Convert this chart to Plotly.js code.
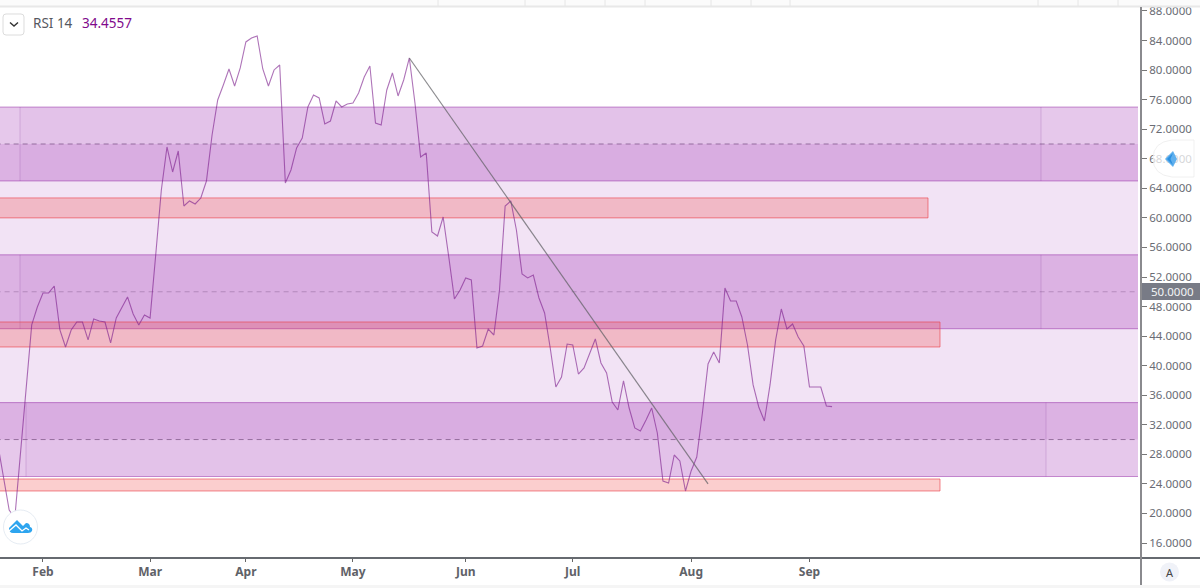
<!DOCTYPE html>
<html><head><meta charset="utf-8">
<style>html,body{margin:0;padding:0;background:#fff;overflow:hidden}#c{width:1200px;height:588px}</style>
<script src="https://cdn.plot.ly/plotly-3.0.1.min.js"></script></head>
<body><div id="c"></div>
<script>
// RSI 14, one value per daily bar
const rsi = [29.27,24.80,20.47,19.39,27.91,36.71,45.51,47.94,49.84,49.84,
50.78,44.83,42.53,44.83,45.91,45.91,43.48,46.32,46.05,45.91,
43.07,46.45,47.94,49.30,46.99,45.51,46.86,46.45,54.98,63.78,
69.60,66.21,69.05,61.61,62.29,61.88,62.69,64.99,71.22,75.96,
77.99,80.15,77.85,80.29,83.81,84.35,84.62,80.15,77.85,80.02,
80.69,64.72,66.48,69.46,70.81,75.01,76.63,76.23,72.71,73.11,
75.82,75.01,75.42,75.55,76.90,79.07,80.56,72.84,72.57,77.31,
79.61,76.50,78.66,81.64,75.55,68.24,68.78,58.09,57.55,60.12,
54.71,49.02,50.24,51.87,51.60,42.39,42.66,44.96,44.15,50.24,
61.61,62.29,58.36,52.41,51.87,52.27,49.16,47.13,42.39,37.11,
38.47,42.93,42.80,38.87,39.69,41.58,43.61,40.36,39.01,35.08,
34.00,37.93,34.27,31.57,31.16,32.65,34.27,30.89,24.39,24.12,
27.91,27.10,23.04,25.75,27.64,33.60,40.23,41.85,40.36,50.51,
48.75,48.75,46.59,42.80,37.39,34.41,32.51,37.39,43.48,47.67,
44.96,45.64,43.88,42.66,37.11,37.11,37.11,34.54,34.46];
const monthLabels = ['Feb','Mar','Apr','May','Jun','Jul','Aug','Sep'];
const monthBars = [8,27,44,63,83,102,123,144];
const yTicks = [16,20,24,28,32,36,40,44,48,52,56,60,64,68,72,76,80,84,88];
const trendBars = [73,126];
const trendValues = [81.64,24.0];
const purpleBands = [[65,75],[45,55],[25,35]];
const redBands = [[60,62.7],[42.53,45.91],[23.04,24.66]];
const dashedLevels = [70,50,30];

// pixel helpers for page furniture outside the data
const W=1141,H=551,T=7;
const px=x=>x/W, py=y=>(T+H-y)/H;
const bar=x=>(x+2.1)/5.636;
const pathP=s=>s.replace(/(-?[\d.]+),(-?[\d.]+)/g,(m,a,b)=>px(+a).toFixed(5)+','+py(+b).toFixed(5));
const pshape=(d,o)=>Object.assign({type:'path',xref:'paper',yref:'paper',path:pathP(d),layer:'above',line:{width:0}},o);

const shapes=[];
const rect=(x0,x1,y0,y1,fill,line,lw,layer)=>shapes.push({type:'rect',xref:'x',yref:'y',x0,x1,y0,y1,fillcolor:fill,layer:layer||'below',line:{color:line||'rgba(0,0,0,0)',width:lw||0}});
const hline=(x0,x1,v,color,w,dash)=>shapes.push({type:'line',xref:'x',yref:'y',x0,x1,y0:v,y1:v,layer:'below',line:{color,width:w,dash}});
const vline=(x,y0,y1,color)=>shapes.push({type:'line',xref:'x',yref:'y',x0:x,x1:x,y0,y1,layer:'below',line:{color,width:1}});

// pale base zone
rect(-2,bar(1138),30,70,'rgba(156,39,176,0.13)');
// purple bands with left / right sections
const splitL=[bar(20),bar(20),bar(26)], splitR=[bar(1041),bar(1041),bar(1046)];
purpleBands.forEach((b,i)=>{
  rect(-2,splitL[i],b[0],b[1],'rgba(147,20,170,0.235)');
  rect(splitL[i],splitR[i],b[0],b[1],'rgba(147,20,170,0.26)');
  rect(splitR[i],bar(1138),b[0],b[1],'rgba(147,20,170,0.235)');
  hline(-2,bar(1138),b[1],'rgba(147,40,165,0.5)',1);
  hline(-2,bar(1138),b[0],'rgba(147,40,165,0.5)',1);
  vline(splitL[i],b[0],b[1],'rgba(120,40,140,0.2)');
  vline(splitR[i],b[0],b[1],'rgba(120,40,140,0.2)');
});
// red boxes
const redEnds=[bar(928),bar(940),bar(940)];
redBands.forEach((b,i)=>rect(-2,redEnds[i],b[0],b[1],'rgba(240,60,60,0.25)','rgba(235,70,80,0.65)',1));
// dashed levels
dashedLevels.forEach((v,i)=>hline(-2,bar(1138),v,i==1?'rgba(110,70,120,0.35)':'rgba(100,60,110,0.6)',1,'5px 4px'));

// top strip
shapes.push({type:'rect',xref:'paper',yref:'paper',x0:0,x1:px(1200),y0:py(6),y1:py(0),fillcolor:'#fbfbfb',layer:'above',line:{width:0}});
shapes.push({type:'line',xref:'paper',yref:'paper',x0:0,x1:px(1200),y0:py(6.5),y1:py(6.5),layer:'above',line:{color:'#e8e8e8',width:2}});
[438,525,565,605,645,711,751,790,1038,1078,1118].forEach(x=>shapes.push({type:'line',xref:'paper',yref:'paper',x0:px(x),x1:px(x),y0:py(6),y1:py(0),layer:'above',line:{color:'#e6e6e6',width:1}}));
// bottom strip and axis extension
shapes.push({type:'rect',xref:'paper',yref:'paper',x0:0,x1:px(1200),y0:py(588),y1:py(585),fillcolor:'#f5f5f5',layer:'above',line:{width:0}});
shapes.push({type:'line',xref:'paper',yref:'paper',x0:0,x1:px(1200),y0:py(558),y1:py(558),layer:'above',line:{color:'#666a70',width:2}});
shapes.push({type:'line',xref:'paper',yref:'paper',x0:px(1141),x1:px(1141),y0:py(585),y1:py(7),layer:'above',line:{color:'#8a8a8e',width:2}});
// last-level price tag
shapes.push({type:'rect',xref:'paper',yref:'paper',x0:px(1142),x1:px(1200),y0:py(300),y1:py(283),fillcolor:'#787b86',layer:'above',line:{width:0}});
// chevron button
shapes.push(pshape('M6,14 L21,14 Q24,14 24,17 L24,32 Q24,35 21,35 L6,35 Q3,35 3,32 L3,17 Q3,14 6,14 Z',{fillcolor:'#fff',line:{color:'#dcdcdc',width:1}}));
shapes.push(pshape('M10,22.5 L14,26 L18,22.5',{fillcolor:'rgba(0,0,0,0)',line:{color:'#333',width:1.4}}));
// logo
shapes.push({type:'circle',xref:'paper',yref:'paper',x0:px(3.5),x1:px(37.5),y0:py(544),y1:py(510),fillcolor:'#fff',layer:'above',line:{color:'#e6ecf3',width:1}});
shapes.push(pshape('M9,528 L17,520 L23,526 L26,523 Q30,523 30,527 Q33,528 32,531 Q31,533 28,533 L13,533 Q9,533 9,528 Z',{fillcolor:'#2ea5ef'}));
shapes.push(pshape('M9,531 L16,525 L22,531 L26,528 L29,530',{fillcolor:'rgba(0,0,0,0)',line:{color:'#fff',width:1.3}}));
// scroll widget
shapes.push(pshape('M1172,140 L1194,140 L1194,177 L1172,177 Q1153,175 1153,158.5 Q1153,142 1172,140 Z',{fillcolor:'rgba(255,255,255,0.72)',line:{color:'rgba(230,230,230,0.6)',width:1}}));
shapes.push(pshape('M1173,151 L1177,159 L1173,167 L1165,159 Z',{fillcolor:'#5fb0ee'}));
shapes.push(pshape('M1173,153 L1167,159 L1173,165 L1170.5,159 Z',{fillcolor:'#2b8fe0'}));
// auto-scale button
shapes.push({type:'circle',xref:'paper',yref:'paper',x0:px(1160),x1:px(1179),y0:py(581.5),y1:py(562.5),fillcolor:'#f0f2f8',layer:'above',line:{width:0}});

const txt=(x,y,text,color,size,anchor,extra)=>Object.assign({xref:'paper',yref:'paper',x:px(x),y:py(y),text,showarrow:false,xanchor:anchor||'left',yanchor:'middle',font:{family:'Noto Sans',size,color},borderpad:0},extra||{});
const annotations=[
  txt(31.5,23,'RSI 14','#55585f',13.5),
  txt(80.5,23,'34.4557','#800a8c',13.5),
  txt(1150,291.5,'50.0000','#f2f3f5',11.5),
  txt(1169.5,572,'A','#444',11,'center')
];

const traces=[
  {type:'scatter',mode:'lines',x:rsi.map((_,i)=>i),y:rsi,line:{color:'rgba(125,30,140,0.62)',width:1.1},hoverinfo:'skip',showlegend:false},
  {type:'scatter',mode:'lines',x:trendBars,y:trendValues,line:{color:'rgba(95,95,100,0.72)',width:1.2},hoverinfo:'skip',showlegend:false}
];
const layout={
  width:1200,height:588,autosize:false,
  margin:{l:0,r:59,t:T,b:30,pad:0},
  paper_bgcolor:'#fff',plot_bgcolor:'#fff',showlegend:false,
  xaxis:{range:[bar(0),bar(1141)],tickmode:'array',tickvals:monthBars,ticktext:monthLabels,showgrid:false,zeroline:false,
    ticks:'outside',ticklen:3,tickcolor:'#666',tickfont:{family:'Noto Sans',size:12,color:'#5f6268',weight:700},showline:false},
  yaxis:{range:[13.97,88.54],side:'right',tickmode:'array',tickvals:yTicks,ticktext:yTicks.map(v=>v.toFixed(4)),showgrid:false,zeroline:false,
    ticks:'outside',ticklen:5,tickcolor:'#777',tickfont:{family:'Noto Sans',size:11.5,color:'#6a6c74'},showline:false},
  shapes,annotations
};
Plotly.newPlot('c',traces,layout,{displayModeBar:false,staticPlot:true});
</script></body></html>
